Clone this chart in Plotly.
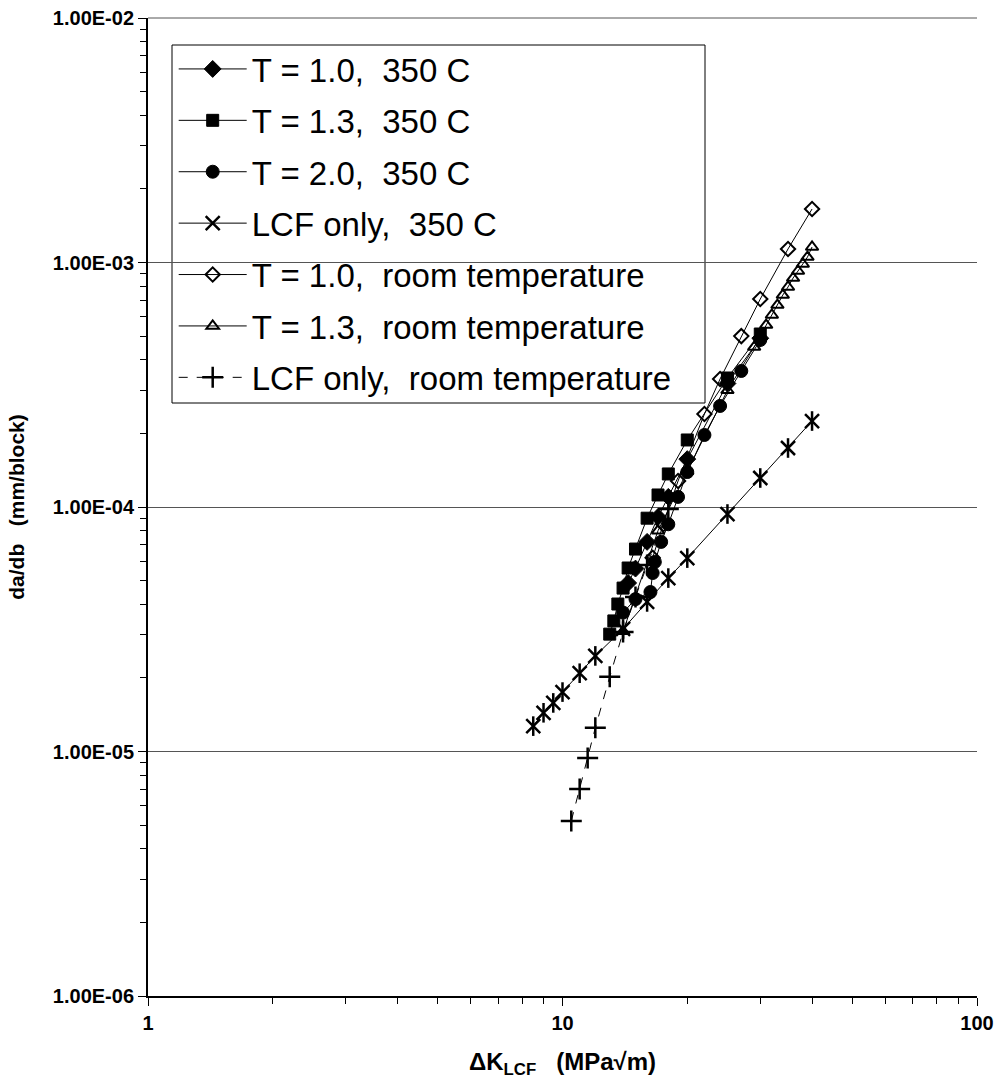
import plotly.graph_objects as go

# ---- data ----
t10_350_x = [14.4, 15.0, 16.0, 17.0, 18.0, 20.0, 25.0, 30.0]
t10_350_y = [4.89e-5, 5.6e-5, 7.2e-5, 9.1e-5, 1.1e-4, 1.57e-4, 3.2e-4, 4.9e-4]

t13_350_x = [13.0, 13.3, 13.6, 14.0, 14.4, 15.0, 16.0, 17.0, 18.0, 20.0, 25.0, 30.0]
t13_350_y = [3.02e-5, 3.42e-5, 4.01e-5, 4.66e-5, 5.63e-5, 6.73e-5, 9.0e-5, 1.12e-4, 1.365e-4, 1.88e-4, 3.37e-4, 5.1e-4]

t20_350_x = [14.0, 15.0, 16.3, 16.5, 16.7, 17.3, 18.0, 19.0, 20.0, 22.0, 24.0, 27.0, 30.0]
t20_350_y = [3.7e-5, 4.2e-5, 4.49e-5, 5.37e-5, 5.96e-5, 7.2e-5, 8.5e-5, 1.1e-4, 1.39e-4, 1.97e-4, 2.59e-4, 3.6e-4, 4.82e-4]

lcf_350_x = [8.5, 9.0, 9.5, 10.0, 11.0, 12.0, 14.0, 16.0, 18.0, 20.0, 25.0, 30.0, 35.0, 40.0]
lcf_350_y = [1.27e-5, 1.44e-5, 1.58e-5, 1.75e-5, 2.09e-5, 2.46e-5, 3.17e-5, 4.09e-5, 5.12e-5, 6.18e-5, 9.36e-5, 1.314e-4, 1.743e-4, 2.247e-4]

t10_rt_x = [16.5, 17.5, 19.0, 22.0, 24.0, 27.0, 30.0, 35.0, 40.0]
t10_rt_y = [6.2e-5, 8.5e-5, 1.277e-4, 2.4e-4, 3.34e-4, 5.0e-4, 7.09e-4, 1.136e-3, 1.655e-3]

t13_rt_x = [14.0, 17.0, 20.0, 25.0, 29.0, 31.0, 32.0, 33.0, 34.0, 35.0, 36.0, 37.0, 38.0, 39.0, 40.0]
t13_rt_y = [3.1e-5, 8.0e-5, 1.4e-4, 3.0e-4, 4.51e-4, 5.55e-4, 6.1e-4, 6.7e-4, 7.36e-4, 7.94e-4, 8.64e-4, 9.23e-4, 9.86e-4, 1.053e-3, 1.157e-3]

lcf_rt_x = [10.5, 11.0, 11.5, 12.0, 13.0, 14.0, 15.0, 16.0, 18.0]
lcf_rt_y = [5.2e-6, 7.02e-6, 9.4e-6, 1.25e-5, 2.02e-5, 3.08e-5, 4.28e-5, 5.79e-5, 9.81e-5]

y_tickvals = [1e-6, 1e-5, 1e-4, 1e-3, 1e-2]
y_ticktext = ["1.00E-06", "1.00E-05", "1.00E-04", "1.00E-03", "1.00E-02"]
x_tickvals = [1, 10, 100]
x_ticktext = ["1", "10", "100"]

names = ["T = 1.0,  350 C", "T = 1.3,  350 C", "T = 2.0,  350 C", "LCF only,  350 C",
         "T = 1.0,  room temperature", "T = 1.3,  room temperature", "LCF only,  room temperature"]

FONT = "Liberation Sans, Arial, sans-serif"
fig = go.Figure()

def add(x, y, name, symbol, size, lw=1, dash="solid"):
    fig.add_trace(go.Scatter(
        x=x, y=y, name=name, mode="lines+markers",
        line=dict(color="black", width=1, dash=dash),
        marker=dict(symbol=symbol, size=size, color="black",
                    line=dict(color="black", width=lw)),
        legendgroup=name))

add(t10_350_x, t10_350_y, names[0], "diamond", 13)
add(t13_350_x, t13_350_y, names[1], "square", 12)
add(t20_350_x, t20_350_y, names[2], "circle", 13)
add(lcf_350_x, lcf_350_y, names[3], "x-thin-open", 14, lw=2.5)
fig.add_trace(go.Scatter(x=lcf_350_x, y=lcf_350_y, mode="markers", showlegend=False,
                         legendgroup=names[3],
                         marker=dict(symbol="line-ns-open", size=14, color="black",
                                     line=dict(color="black", width=2.5))))
add(t10_rt_x, t10_rt_y, names[4], "diamond-open", 11, lw=2)
add(t13_rt_x, t13_rt_y, names[5], "triangle-up-open", 11, lw=2)
add(lcf_rt_x, lcf_rt_y, names[6], "cross-thin-open", 15, lw=2.5, dash="dash")

fig.update_layout(
    width=999, height=1088,
    margin=dict(l=148, r=22, t=18, b=92),
    paper_bgcolor="white", plot_bgcolor="white",
    font=dict(family=FONT, color="black", size=15),
    showlegend=True,
    legend=dict(x=0.031, y=0.9765, xanchor="left", yanchor="top",
                borderwidth=0, bgcolor="rgba(0,0,0,0)",
                font=dict(size=33, family=FONT),
                tracegroupgap=5.5, traceorder="grouped", itemwidth=68),
    shapes=[
        dict(type="rect", xref="paper", yref="paper",
             x0=(172 - 148) / 829, x1=(705 - 148) / 829,
             y0=1 - (403 - 18) / 978, y1=1 - (45 - 18) / 978,
             line=dict(color="black", width=1), fillcolor="white", layer="below"),
        dict(type="line", xref="paper", yref="paper", x0=0, x1=1, y0=1, y1=1,
             line=dict(color="#555555", width=1)),
    ],
)
fig.update_xaxes(
    type="log", range=[0, 2], automargin=False,
    tickmode="array", tickvals=x_tickvals, ticktext=["<b>%s</b>" % t for t in x_ticktext],
    tickfont=dict(size=20, family=FONT, color="black"),
    ticks="outside", ticklen=8, tickwidth=1, tickcolor="black",
    minor=dict(ticks="outside", ticklen=6, tickcolor="black", dtick="D1", showgrid=False),
    showline=True, linecolor="black", linewidth=2, showgrid=False, zeroline=False,
    title=dict(text="<b>ΔK<sub>LCF</sub>   (MPa√m)</b>", font=dict(size=24), standoff=20),
)
fig.update_yaxes(
    type="log", range=[-6, -2], automargin=False,
    tickmode="array", tickvals=y_tickvals, ticktext=["<b>%s</b>" % t for t in y_ticktext],
    tickfont=dict(size=20, family=FONT, color="black"),
    ticks="outside", ticklen=8, tickwidth=1, tickcolor="black",
    minor=dict(ticks="outside", ticklen=6, tickcolor="black", dtick="D1", showgrid=False),
    showline=True, linecolor="black", linewidth=2,
    showgrid=True, gridcolor="#555555", gridwidth=1, zeroline=False,
    title=dict(text="<b>da/db   (mm/block)</b>", font=dict(size=21), standoff=22),
)

fig.write_html("out.html")
